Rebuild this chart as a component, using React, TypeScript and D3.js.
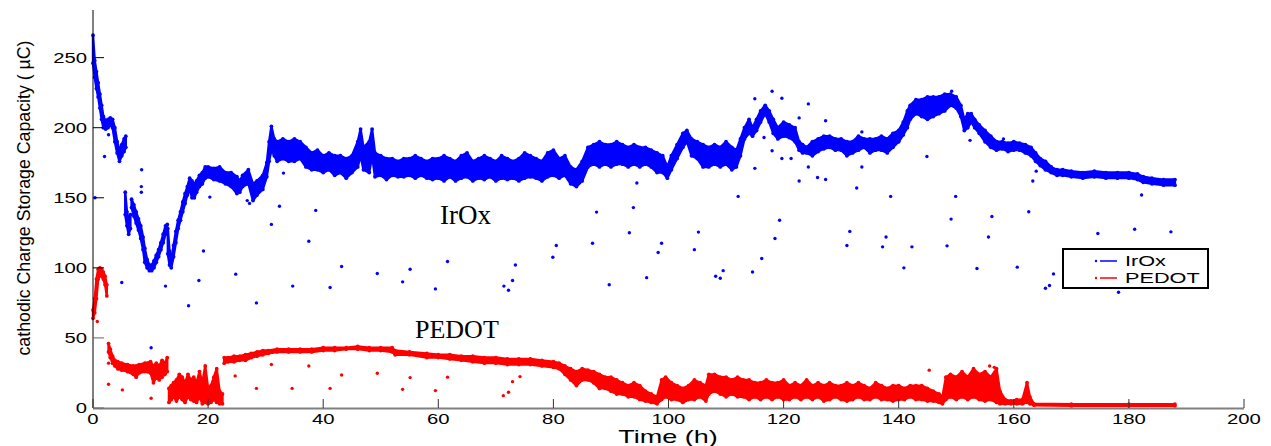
import React from "react";
import * as d3 from "d3";

type Row = [number, number, number];
type Pt = [number, number];

// ---- tick labels ----
const xTicks = [0, 20, 40, 60, 80, 100, 120, 140, 160, 180, 200];
const yTicks = [0, 50, 100, 150, 200, 250];

// ---- IrOx main band segments: [time h, low, high] ----
const irA: Row[] = [
  [0, 246, 266], [0.3, 236, 248], [0.6, 228, 240], [0.9, 222, 232], [1.2, 214, 224],
  [1.5, 206, 216], [1.8, 200, 208], [2.2, 199, 205], [2.6, 200, 206], [3.0, 202, 207],
  [3.4, 200, 206], [3.8, 190, 200], [4.2, 182, 190], [4.6, 176, 184], [5.0, 180, 188],
  [5.4, 183, 192], [5.7, 186, 194],
];
const irB: Row[] = [
  [5.6, 138, 154], [5.9, 130, 140], [6.2, 124, 134], [6.5, 128, 138],
];
const irC: Row[] = [
  [6.7, 143, 149], [7.1, 137, 145], [7.5, 132, 140], [7.9, 127, 135], [8.3, 121, 130],
  [8.7, 113, 122], [9.0, 104, 114], [9.4, 100, 106], [9.8, 98, 102], [10.2, 98, 102],
  [10.6, 100, 105], [11.0, 104, 109], [11.4, 108, 113], [11.8, 113, 118], [12.2, 118, 124],
  [12.6, 124, 130], [12.9, 126, 131],
];
const irD: Row[] = [
  [13.0, 110, 128], [13.3, 102, 112], [13.6, 100, 106], [14.0, 108, 116], [14.4, 118, 126],
  [14.8, 128, 134], [15.2, 134, 140], [15.6, 140, 147], [16.0, 146, 153], [16.4, 152, 158],
  [16.8, 156, 164], [17.2, 150, 162], [17.6, 150, 160], [18.0, 154, 162], [18.5, 158, 166],
  [19.0, 160, 168], [19.5, 164, 172], [20, 165, 172], [21, 163, 171], [22, 162, 172],
  [23, 160, 168], [24, 158, 168], [25, 153, 165], [25.5, 154, 162], [26, 158, 166],
  [27, 160, 170], [27.8, 148, 160], [28.5, 152, 162], [29.5, 156, 166], [30.2, 165, 175],
  [30.6, 176, 190], [31, 184, 201], [31.5, 180, 192], [32, 176, 190], [33, 178, 192],
  [34, 176, 190], [35, 176, 192], [36, 178, 190], [37, 172, 186], [38, 170, 182],
  [39, 170, 184], [40, 168, 180], [41, 170, 182], [42, 166, 180], [43, 168, 180],
  [44, 164, 178], [45, 168, 180], [46, 172, 190], [46.5, 180, 199], [47, 170, 186],
  [48, 168, 190], [48.5, 180, 199], [49, 165, 182], [50, 166, 180], [51, 163, 178],
  [52, 166, 178], [53, 165, 176], [54, 165, 178], [55, 166, 178], [56, 164, 180],
  [57, 166, 178], [58, 164, 176], [59, 163, 178], [60, 164, 178], [61, 162, 180],
  [62, 165, 178], [63, 162, 176], [64, 164, 180], [65, 165, 182], [66, 162, 176],
  [67, 164, 178], [68, 163, 180], [69, 165, 178], [70, 162, 176], [71, 164, 180],
  [72, 163, 178], [73, 164, 176], [74, 162, 178], [75, 164, 182], [76, 165, 180],
  [77, 164, 178], [78, 162, 176], [79, 165, 182], [80, 166, 184], [81, 164, 178],
  [82, 166, 180], [83, 160, 172], [84, 158, 170], [85, 162, 176], [86, 172, 186],
  [87, 174, 188], [88, 172, 190], [89, 174, 188], [90, 172, 188], [91, 174, 190],
  [92, 174, 188], [93, 172, 186], [94, 174, 188], [95, 172, 186], [96, 174, 186],
  [97, 172, 184], [98, 168, 182], [99, 168, 180], [99.8, 164, 172], [100.5, 170, 180],
  [101.5, 178, 188], [102.5, 186, 196], [103.2, 190, 198], [104, 180, 192], [105, 178, 190],
  [106, 172, 188], [107, 172, 186], [108, 174, 188], [109, 172, 186], [110, 174, 190],
  [111, 170, 186], [111.8, 172, 184], [112.5, 180, 192], [113.2, 192, 200], [114, 196, 206],
  [114.6, 194, 200], [115.3, 198, 206], [116, 204, 212], [116.8, 210, 216], [117.5, 204, 212],
  [118.2, 196, 206], [119, 192, 200], [120, 194, 204], [121, 193, 202], [122, 190, 200],
  [122.7, 184, 190], [123.3, 182, 188], [124, 182, 186], [125, 180, 190], [126, 183, 192],
  [127, 185, 194], [128, 186, 194], [129, 184, 192], [130, 184, 192], [131, 180, 190],
  [132, 182, 190], [133, 184, 194], [134, 186, 192], [135, 182, 192], [136, 184, 192],
  [137, 184, 194], [138, 182, 192], [139, 186, 196], [140, 190, 198], [140.8, 195, 204],
  [141.5, 200, 212], [142, 206, 216], [143, 210, 220], [144, 208, 220], [145, 206, 222],
  [146, 208, 222], [147, 210, 222], [148, 212, 224], [149, 216, 224], [150, 214, 222],
  [150.8, 208, 216], [151.4, 198, 206], [152, 200, 210], [152.6, 204, 210], [153.2, 200, 206],
  [154, 196, 202], [155, 190, 198], [156, 186, 194], [157, 184, 190], [158, 185, 190],
  [159, 183, 189], [160, 184, 190], [161, 184, 189], [162, 182, 188], [163, 180, 186],
  [163.8, 176, 182], [164.6, 173, 178], [165.5, 170, 176], [166.5, 168, 172], [167.5, 166, 170],
  [168.5, 166, 170], [170, 165, 169], [172, 164, 168], [174, 165, 169], [176, 164, 168],
  [178, 164, 168], [180, 164, 168], [181.5, 163, 167], [182.5, 161, 165], [184, 160, 164],
  [186, 159, 163], [188, 159, 163],
];

// ---- IrOx isolated points: [time h, value] ----
const irOut: Pt[] = [
  [0.35, 150], [2.0, 179.5], [2.7, 195], [5.0, 89.5], [8.45, 170], [8.4, 158], [8.4, 154],
  [10.1, 43], [12.6, 87], [16.6, 73], [18.4, 91], [19.2, 112], [20.3, 150.5], [24.8, 95.5],
  [28.4, 75], [26.8, 148], [27.2, 146], [31.0, 131], [32.4, 144], [33.1, 167.6], [34.7, 87],
  [37.5, 119], [38.7, 141], [41.2, 86], [43.2, 101], [49.4, 96], [53.8, 90], [55.1, 99],
  [59.5, 85], [61.6, 104.5], [71.4, 87], [72.2, 84], [72.9, 91], [73.4, 102], [79.9, 107.6],
  [80.5, 116], [86.8, 117.6], [87.5, 139.8], [89.7, 88], [93.2, 125], [93.9, 143], [96.2, 93],
  [98.2, 111], [94.5, 160.5], [98.8, 117.6], [104.5, 113], [105.2, 125.5], [108.2, 94],
  [109, 92.6], [109.5, 98], [112.1, 151], [114.6, 97], [115, 220.7], [115, 171], [116.2, 106.7],
  [116.6, 193], [118, 226], [118, 183.6], [118.5, 121], [119.3, 134], [119.7, 221], [119.7, 178],
  [121.3, 178], [122.7, 207], [122.7, 162], [124.3, 217], [124.3, 172], [125.9, 164.5],
  [127.3, 205], [127.3, 163], [131, 116], [131.5, 126], [132.7, 157], [133.6, 197], [133.6, 172],
  [137.2, 115], [137.8, 122], [138.6, 151], [140.9, 100], [142.3, 115], [144.9, 179.5],
  [148.4, 115.7], [149.1, 134.8], [149.9, 151], [149.2, 226], [152.4, 191], [153.6, 99.5],
  [155.6, 122], [156.2, 136.7], [160.6, 100.5], [162.6, 140], [163.3, 162], [163.9, 169],
  [165.5, 85.5], [166.2, 87.4], [166.9, 95.7], [174.6, 124.5], [178.2, 82.6], [181, 127.6],
  [182.2, 152], [187.3, 125.7], [158.2, 192],
];

// ---- PEDOT main band segments ----
const peA: Row[] = [
  [0, 64, 70], [0.3, 68, 78], [0.6, 78, 92], [0.9, 92, 99], [1.2, 95, 100], [1.5, 94, 99],
  [1.8, 92, 97], [2.1, 88, 94], [2.4, 80, 88],
];
const peB: Row[] = [
  [2.7, 40, 46], [3.0, 36, 42], [3.4, 32, 37], [3.8, 30, 34], [4.3, 28, 33], [5, 27, 32],
  [6, 26, 31], [7, 24, 30], [7.5, 22, 30], [8, 25, 31], [9, 26, 32], [10, 25, 33],
  [10.5, 18, 30], [11, 22, 32], [11.5, 20, 30], [12, 22, 34], [12.5, 24, 32], [12.9, 26, 36],
];
const peC: Row[] = [
  [13.2, 4, 14], [13.6, 6, 16], [14, 8, 18], [14.5, 5, 20], [15, 8, 24], [15.5, 6, 22],
  [16, 4, 18], [16.5, 8, 24], [17, 6, 20], [17.5, 5, 22], [18, 4, 18], [18.5, 8, 26],
  [19, 3, 18], [19.5, 4, 30], [20, 3, 14], [20.5, 4, 16], [21, 6, 22], [21.5, 4, 28],
  [22, 3, 12], [22.5, 3, 10],
];
const peD: Row[] = [
  [22.8, 32, 36], [23.5, 33, 36], [24.5, 33, 37], [25.5, 34, 37], [26.5, 34, 38], [27.5, 36, 39],
  [28.5, 37, 40], [29.5, 38, 41], [30.5, 39, 41], [32, 40, 42], [34, 40, 42], [36, 40, 42],
  [38, 40, 42], [40, 41, 43], [42, 41, 43], [44, 42, 43], [46, 42, 44], [48, 41, 43],
  [50, 41, 43], [52, 40, 43], [52.5, 38, 41], [55, 38, 40], [58, 36, 39], [60, 36, 38],
  [62, 35, 38], [64, 34, 37], [66, 33, 37], [68, 32, 36], [70, 32, 36], [72, 31, 35],
  [74, 31, 35], [76, 31, 35], [78, 30, 34], [80, 29, 33], [81, 28, 32], [82, 24, 30],
  [83, 20, 28], [84, 16, 26], [85, 20, 28], [86, 20, 27], [87, 18, 26], [88, 14, 24],
  [89, 14, 22], [90, 12, 22], [91, 10, 20], [92, 10, 18], [93, 8, 16], [94, 8, 18],
  [95, 6, 16], [96, 5, 12], [97, 4, 10], [98, 3, 8], [98.8, 6, 20], [99.5, 8, 22],
  [100.5, 6, 18], [101.5, 6, 16], [102.5, 4, 14], [103.5, 6, 16], [104.5, 6, 20], [105.5, 8, 18],
  [106.5, 5, 16], [107, 10, 24], [108, 12, 24], [109, 10, 22], [110, 8, 22], [111, 10, 20],
  [112, 8, 22], [113, 8, 20], [114, 6, 20], [115, 8, 18], [116, 6, 18], [117, 8, 20],
  [118, 6, 18], [119, 8, 18], [120, 6, 20], [121, 6, 16], [122, 8, 18], [123, 6, 16],
  [124, 8, 20], [125, 6, 16], [126, 8, 18], [127, 5, 16], [128, 6, 18], [129, 8, 16],
  [130, 6, 16], [131, 5, 18], [132, 6, 16], [133, 8, 18], [134, 6, 16], [135, 6, 14],
  [136, 8, 18], [137, 6, 16], [138, 6, 14], [139, 5, 16], [140, 6, 16], [141, 6, 14],
  [142, 8, 16], [143, 6, 16], [144, 6, 16], [145, 5, 14], [146, 5, 12], [147, 4, 10],
  [147.6, 3, 8], [148.2, 6, 22], [149, 8, 24], [150, 6, 22], [151, 8, 26], [152, 6, 22],
  [153, 8, 28], [154, 6, 24], [155, 5, 26], [156, 6, 22], [157, 4, 28], [157.6, 3, 12],
  [158.5, 3, 6], [159.5, 3, 5], [160.5, 3, 6], [161.5, 3, 6], [162.3, 4, 18], [162.8, 3, 8],
  [163.5, 2, 3], [170, 1.5, 2.8], [180, 1.5, 2.8], [188, 1.5, 2.8],
];

// ---- PEDOT isolated points ----
const peOut: Pt[] = [
  [0.75, 61.7], [2.7, 32], [2.7, 17], [5.1, 12.9], [10.1, 7], [24.7, 22.9], [28.4, 14],
  [31, 31], [34.6, 14], [37.5, 30], [41.2, 14], [43.2, 23.6], [49.4, 24.8], [53.8, 13.3],
  [55.1, 21.7], [59.5, 12.4], [61.6, 22], [71.3, 8.8], [72.2, 11.2], [72.9, 18.8], [74.2, 22.4],
  [145.3, 27], [155.8, 30], [156.6, 29],
];

const W = 1271;
const H = 446;
const BLUE = "#0000ff";
const RED = "#ff0000";

export default function App() {
  const x = d3.scaleLinear().domain([0, 200]).range([93, 1244]);
  const y = d3.scaleLinear().domain([0, 284]).range([408, 10]);
  const area = d3
    .area<Row>()
    .x((d) => x(d[0]))
    .y0((d) => y(d[1]))
    .y1((d) => y(d[2]));

  const band = (rows: Row[], color: string, key: string) => (
    <g key={key}>
      <path
        d={area(rows) || ""}
        fill={color}
        stroke={color}
        strokeWidth={2.4}
        strokeLinejoin="round"
      />
      {rows.map((d, i) => (
        <g key={i}>
          <circle cx={x(d[0])} cy={y(d[1])} r={1.9} fill={color} />
          <circle cx={x(d[0])} cy={y(d[2])} r={1.9} fill={color} />
        </g>
      ))}
    </g>
  );

  const tickFont = "Liberation Sans, Arial, sans-serif";

  return (
    <svg
      width={W}
      height={H}
      style={{ position: "absolute", left: 0, top: 0, background: "#fff" }}
      xmlns="http://www.w3.org/2000/svg"
    >
      <rect x={0} y={0} width={W} height={H} fill="#fff" />

      {/* data */}
      {[irA, irB, irC, irD].map((r, i) => band(r, BLUE, "ir" + i))}
      {irOut.map((p, i) => (
        <circle key={"io" + i} cx={x(p[0])} cy={y(p[1])} r={1.7} fill={BLUE} />
      ))}
      {[peA, peB, peC, peD].map((r, i) => band(r, RED, "pe" + i))}
      {peOut.map((p, i) => (
        <circle key={"po" + i} cx={x(p[0])} cy={y(p[1])} r={1.7} fill={RED} />
      ))}

      {/* axes */}
      <line x1={x(0)} x2={x(0)} y1={10} y2={y(0)} stroke="#000" strokeWidth={1} />
      <line x1={x(0)} x2={x(200)} y1={y(0) + 0.5} y2={y(0) + 0.5} stroke="#808080" strokeWidth={2} />
      {xTicks.map((t) => (
        <g key={"xt" + t}>
          <line x1={x(t)} x2={x(t)} y1={y(0)} y2={y(0) - 9} stroke="#333" strokeWidth={1} />
          <text
            x={x(t)}
            y={424}
            fontFamily={tickFont}
            fontSize={14}
            textAnchor="middle"
            transform={`translate(${x(t)},0) scale(1.45,1) translate(${-x(t)},0)`}
          >
            {t}
          </text>
        </g>
      ))}
      {yTicks.map((t) => (
        <g key={"yt" + t}>
          <line x1={x(0)} x2={x(0) + 11} y1={y(t)} y2={y(t)} stroke={t <= 50 ? "#666" : "#000"} strokeWidth={1} />
          <text
            x={87}
            y={y(t) + 5}
            fontFamily={tickFont}
            fontSize={14}
            textAnchor="end"
            transform={`translate(87,0) scale(1.45,1) translate(-87,0)`}
          >
            {t}
          </text>
        </g>
      ))}

      {/* axis titles */}
      <text
        x={668}
        y={443}
        fontFamily={tickFont}
        fontSize={18}
        textAnchor="middle"
        transform="translate(668,0) scale(1.5,1) translate(-668,0)"
      >
        Time (h)
      </text>
      <text
        transform="translate(30,198) rotate(-90)"
        x={0}
        y={0}
        fontFamily={tickFont}
        fontSize={19}
        textAnchor="middle"
        textLength={315}
        lengthAdjust="spacingAndGlyphs"
      >
        cathodic Charge Storage Capacity ( µC)
      </text>

      {/* annotations */}
      <text x={440} y={224} fontFamily="Liberation Serif, Times New Roman, serif" fontSize={27}>
        IrOx
      </text>
      <text x={415} y={338} fontFamily="Liberation Serif, Times New Roman, serif" fontSize={26}>
        PEDOT
      </text>

      {/* legend */}
      <rect x={1063} y={249} width={145} height={39} fill="#fff" stroke="#000" strokeWidth={2} />
      <line x1={1100} x2={1117} y1={261} y2={261} stroke={BLUE} strokeWidth={1.5} />
      <circle cx={1096} cy={261} r={1.2} fill={BLUE} />
      <text
        x={1125}
        y={266}
        fontFamily={tickFont}
        fontSize={14}
        transform="translate(1125,0) scale(1.55,1) translate(-1125,0)"
      >
        IrOx
      </text>
      <line x1={1100} x2={1117} y1={278} y2={278} stroke={RED} strokeWidth={1.5} />
      <circle cx={1096} cy={278} r={1.2} fill={RED} />
      <text
        x={1125}
        y={283}
        fontFamily={tickFont}
        fontSize={14}
        transform="translate(1125,0) scale(1.55,1) translate(-1125,0)"
      >
        PEDOT
      </text>
    </svg>
  );
}
